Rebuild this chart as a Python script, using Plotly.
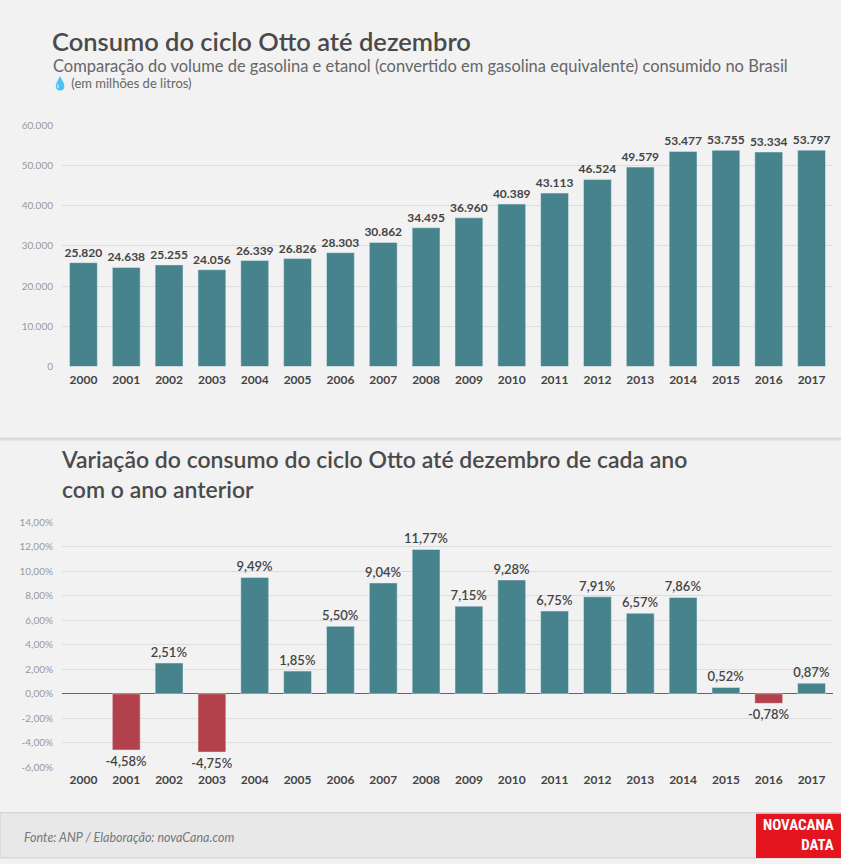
import plotly.graph_objects as go

years = [str(y) for y in range(2000, 2018)]
consumo = [25820, 24638, 25255, 24056, 26339, 26826, 28303, 30862, 34495, 36960,
           40389, 43113, 46524, 49579, 53477, 53755, 53334, 53797]
variacao = [None, -4.58, 2.51, -4.75, 9.49, 1.85, 5.50, 9.04, 11.77, 7.15,
            9.28, 6.75, 7.91, 6.57, 7.86, 0.52, -0.78, 0.87]
top_ticks = [0, 10000, 20000, 30000, 40000, 50000, 60000]
bot_ticks = [-6, -4, -2, 0, 2, 4, 6, 8, 10, 12, 14]

W, H = 841, 864
def py(p): return 1 - p / H

TEAL = "#46838c"; RED = "#b3414b"; TXT = "#555555"; GRID = "#dddddd"
F = "Lato"

def fmt_int(v): return f"{v:,}".replace(",", ".")
def fmt_pct(v): return f"{v:.2f}".replace(".", ",") + "%"

fig = go.Figure()
fig.add_bar(x=years, y=consumo, marker_color=TEAL, width=0.65,
            text=[fmt_int(v) for v in consumo], textposition="outside", constraintext="none",
            textfont=dict(size=12, color="#444", family=F, weight="bold"), cliponaxis=False,
            xaxis="x", yaxis="y", hoverinfo="skip")
fig.add_bar(x=years, y=variacao,
            marker_color=[RED if (v is not None and v < 0) else TEAL for v in variacao],
            width=0.65,
            text=[fmt_pct(v) if v is not None else "" for v in variacao],
            textposition="outside", constraintext="none",
            textfont=dict(size=13, color="#444", family=F, weight=600),
            cliponaxis=False, xaxis="x2", yaxis="y2", hoverinfo="skip")

xd = [62 / W, 833 / W]
fig.update_layout(
    width=W, height=H, margin=dict(l=0, r=0, t=0, b=0),
    paper_bgcolor="#f2f2f2", plot_bgcolor="rgba(0,0,0,0)", showlegend=False,
    font=dict(family=F, color=TXT),
    xaxis=dict(domain=xd, anchor="y", type="category", range=[-0.5, 17.5],
               showgrid=False, tickfont=dict(size=12, color="#444", family=F, weight="bold")),
    yaxis=dict(domain=[py(365), py(120)], range=[0, 60000], tickvals=top_ticks,
               ticktext=[fmt_int(v) for v in top_ticks], gridcolor=GRID,
               zeroline=False, tickfont=dict(size=10, color="#999"), ticklabelstandoff=8),
    xaxis2=dict(domain=xd, anchor="free", position=py(772), type="category",
                range=[-0.5, 17.5], showgrid=False,
                tickfont=dict(size=12, color="#444", family=F, weight="bold")),
    yaxis2=dict(domain=[py(772), py(523)], range=[-6, 14], tickvals=bot_ticks,
                ticktext=[f"{v:.2f}".replace(".", ",") + "%" for v in bot_ticks],
                gridcolor=GRID, zeroline=True, zerolinecolor="#b3414b", zerolinewidth=1,
                tickfont=dict(size=10, color="#999"), ticklabelstandoff=8),
)
fig.update_xaxes(ticklabelstandoff=4)

shapes = [
    dict(type="rect", xref="paper", yref="paper", x0=0, x1=1, y0=py(437), y1=py(440),
         fillcolor="#dcdcdc", line_width=0, layer="below"),
    dict(type="rect", xref="paper", yref="paper", x0=0, x1=1, y0=0, y1=py(818),
         fillcolor="#e8e8e8", line=dict(color="#d0d0d0", width=1), layer="below"),
    dict(type="rect", xref="paper", yref="paper", x0=756 / W, x1=1, y0=0, y1=py(819),
         fillcolor="#e4151f", line_width=0),
]
fig.update_layout(shapes=shapes)

ann = [
    dict(text="Consumo do ciclo Otto até dezembro", x=50 / W, y=py(35), size=25.5, color="#4a4a4a", w=600),
    dict(text="Comparação do volume de gasolina e etanol (convertido em gasolina equivalente) consumido no Brasil",
         x=51 / W, y=py(60), size=16.5, color="#666", w="normal"),
    dict(text="💧 (em milhões de litros)", x=50 / W, y=py(77), size=13, color="#666", w="normal"),
    dict(text="Variação do consumo do ciclo Otto até dezembro de cada ano<br>com o ano anterior",
         x=59 / W, y=py(474), size=23, color="#4a4a4a", w=600),
    dict(text="<i>Fonte: ANP / Elaboração: novaCana.com</i>", x=22 / W, y=py(843), size=12.5, color="#777", w="normal"),
]
for a in ann:
    fig.add_annotation(text=a["text"], x=a["x"], y=a["y"], xref="paper", yref="paper",
                       xanchor="left", yanchor="middle", showarrow=False, align="left",
                       font=dict(size=a["size"], color=a["color"], family=F, weight=a["w"]))
fig.add_annotation(text="<b>NOVACANA<br>DATA</b>", x=836 / W, y=py(841), xref="paper", yref="paper",
                   xanchor="right", yanchor="middle", showarrow=False, align="right",
                   font=dict(size=15, color="white", family="Roboto Condensed, Liberation Sans Narrow, Roboto"))

fig.write_html("out.html", config={"displayModeBar": False},
               post_script="document.body.style.margin='0';document.body.style.overflow='hidden';")
